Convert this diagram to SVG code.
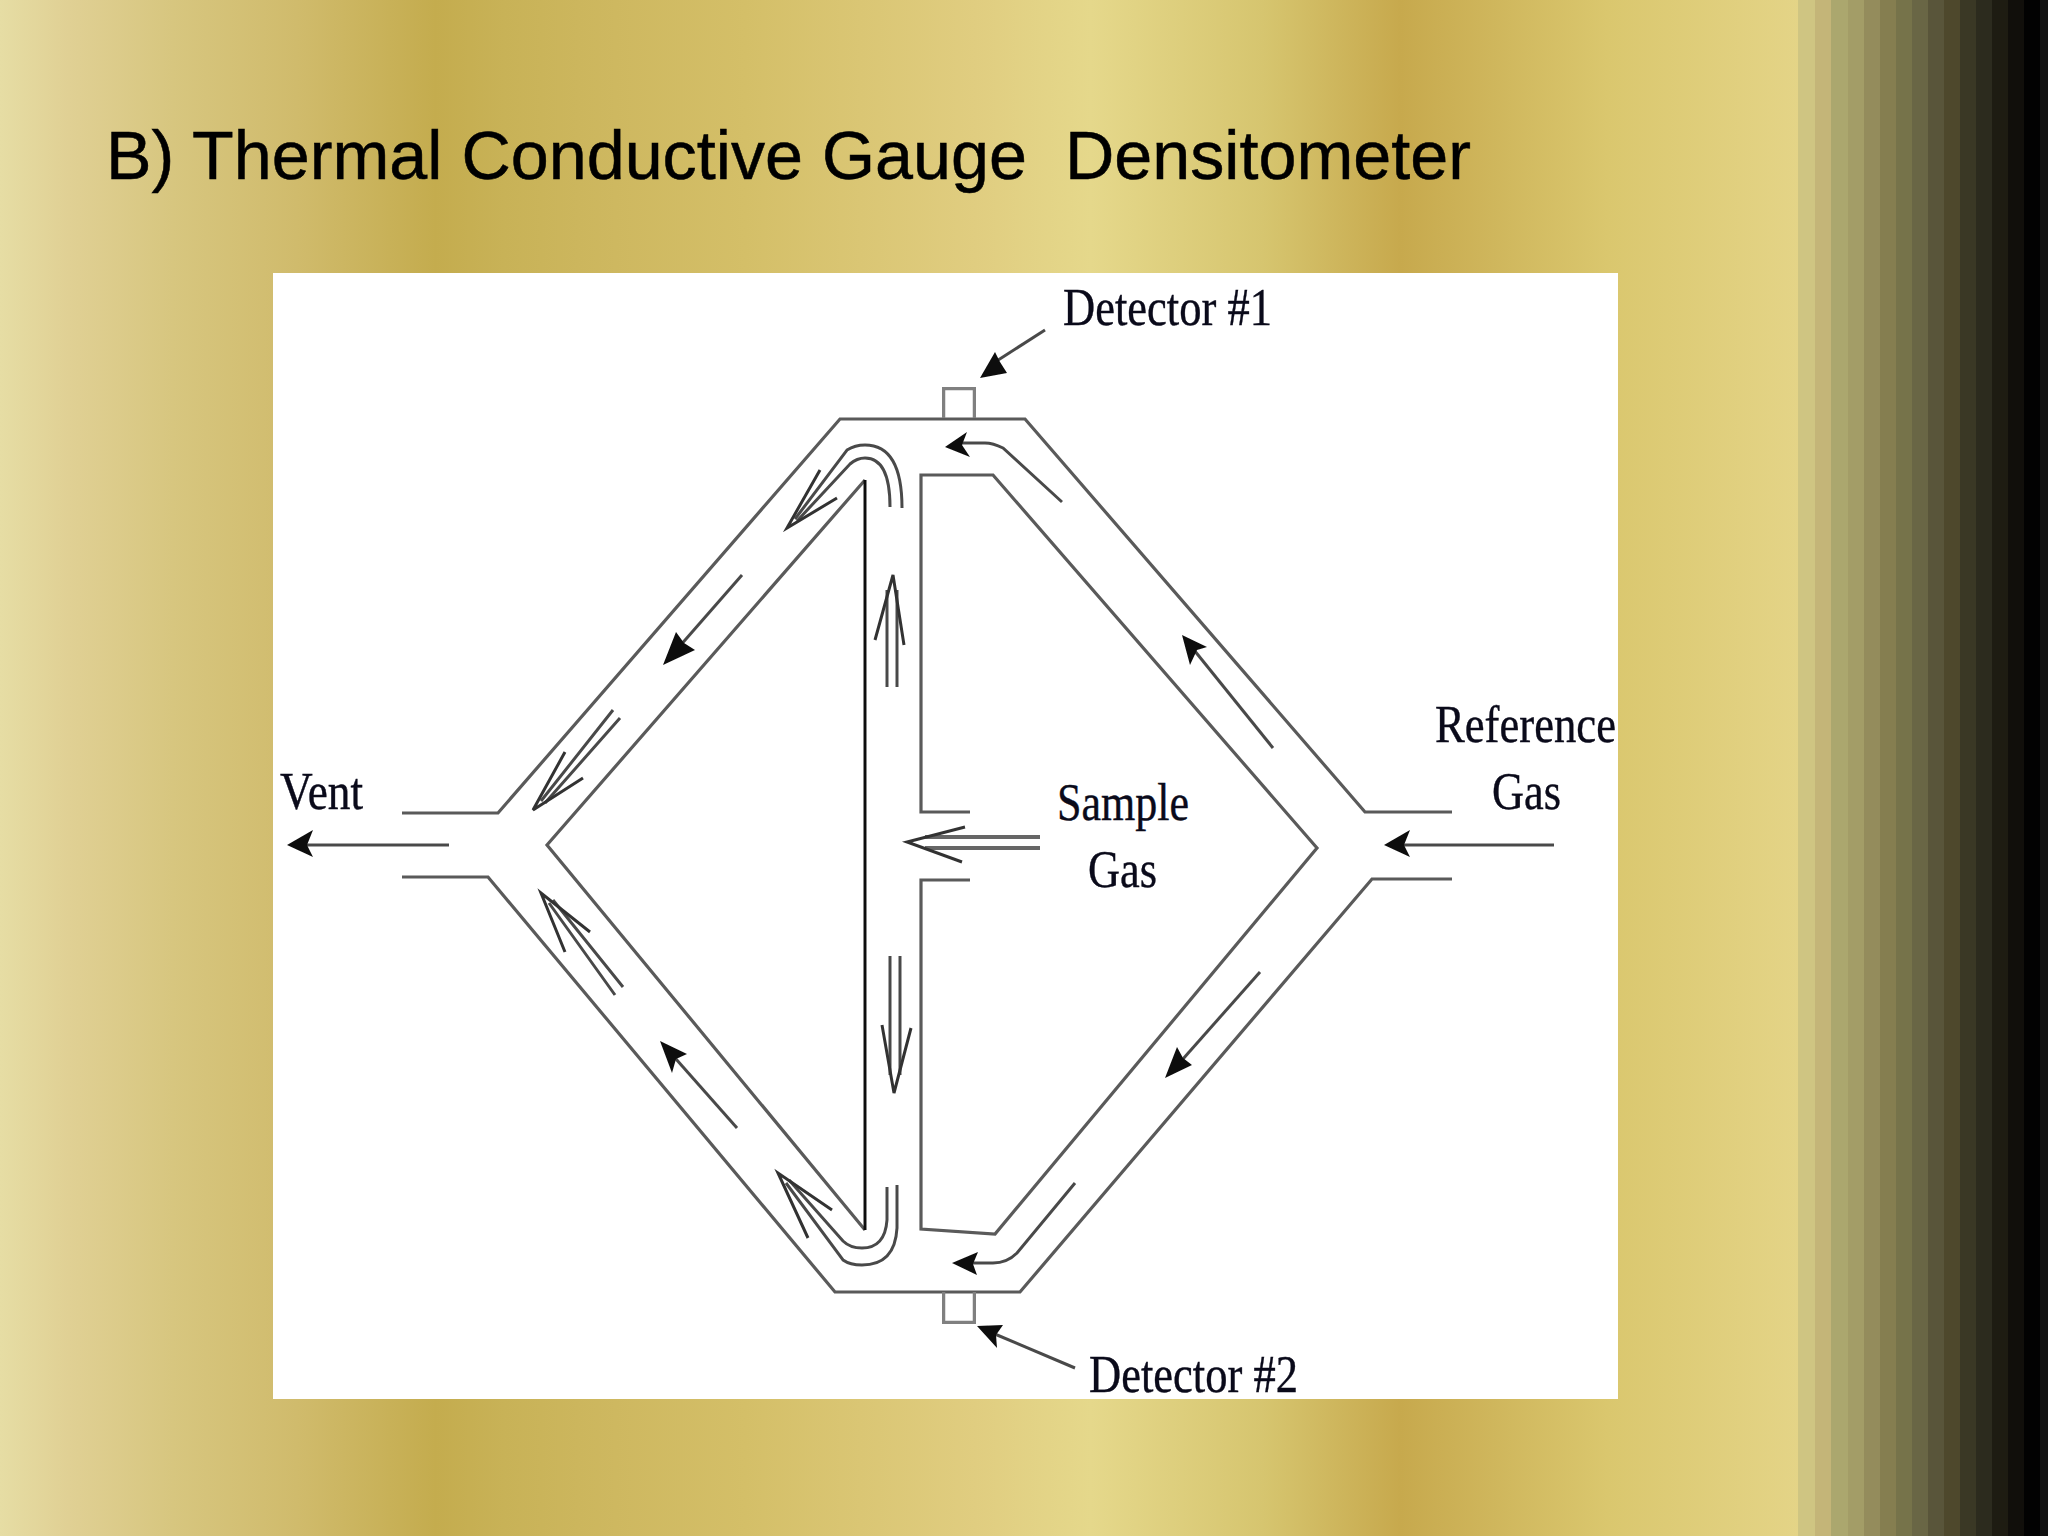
<svg xmlns="http://www.w3.org/2000/svg" width="2048" height="1536" viewBox="0 0 2048 1536">
<style>
.w{fill:none;stroke:#5a5a5a;stroke-width:3.2;stroke-linejoin:miter}
.k{stroke:#111;stroke-width:3}
.g{stroke:#808080;stroke-width:4.5}
.a{fill:none;stroke:#4a4a4a;stroke-width:3}
.s{stroke:#666;stroke-width:4}
.h{fill:#111;stroke:none}
.o{fill:none;stroke:#333;stroke-width:3}
.t{font-family:"Liberation Serif","Times New Roman",serif;font-size:52px;fill:#0a0a1a;stroke:#0a0a1a;stroke-width:.4}
.title{font-family:"Liberation Sans",Arial,sans-serif;font-size:68px;fill:#000;stroke:#000;stroke-width:.5;white-space:pre}
</style>
<defs>
<linearGradient id="bg" gradientUnits="userSpaceOnUse" x1="0" y1="0" x2="1800" y2="0">
<stop offset="0" stop-color="#e6dda4"/><stop offset="0.038" stop-color="#e0d094"/><stop offset="0.096" stop-color="#d7c67f"/><stop offset="0.165" stop-color="#d0bb6c"/><stop offset="0.242" stop-color="#c4ac4e"/><stop offset="0.28" stop-color="#c8b257"/><stop offset="0.342" stop-color="#ceb860"/><stop offset="0.414" stop-color="#d4bf68"/><stop offset="0.542" stop-color="#e0cd80"/><stop offset="0.606" stop-color="#e5d88b"/><stop offset="0.702" stop-color="#d6c56f"/><stop offset="0.778" stop-color="#c7a94d"/><stop offset="0.829" stop-color="#cfb65c"/><stop offset="0.893" stop-color="#dac76e"/><stop offset="1" stop-color="#e4d487"/>
</linearGradient>
<filter id="soft" x="-2%" y="-2%" width="104%" height="104%"><feGaussianBlur stdDeviation="0.6"/></filter>
</defs>
<g id="background">
<rect width="2048" height="1536" fill="url(#bg)"/>
<rect x="1798" y="0" width="17" height="1536" fill="#cfc582"/>
<rect x="1815" y="0" width="16" height="1536" fill="#c4b578"/>
<rect x="1831" y="0" width="17" height="1536" fill="#aba76e"/>
<rect x="1848" y="0" width="16" height="1536" fill="#a39d67"/>
<rect x="1864" y="0" width="16" height="1536" fill="#948c5c"/>
<rect x="1880" y="0" width="16" height="1536" fill="#857e50"/>
<rect x="1896" y="0" width="16" height="1536" fill="#76734a"/>
<rect x="1912" y="0" width="16" height="1536" fill="#696645"/>
<rect x="1928" y="0" width="16" height="1536" fill="#59553a"/>
<rect x="1944" y="0" width="16" height="1536" fill="#4e482c"/>
<rect x="1960" y="0" width="16" height="1536" fill="#3a3825"/>
<rect x="1976" y="0" width="16" height="1536" fill="#2c2b1e"/>
<rect x="1992" y="0" width="16" height="1536" fill="#1e1c12"/>
<rect x="2008" y="0" width="16" height="1536" fill="#110f0b"/>
<rect x="2024" y="0" width="16" height="1536" fill="#020202"/>
<rect x="2040" y="0" width="8" height="1536" fill="#111"/>
</g>
<text id="title" class="title" x="106" y="179" textLength="1365" lengthAdjust="spacingAndGlyphs" xml:space="preserve">B) Thermal Conductive Gauge  Densitometer</text>
<rect id="panel" x="273" y="273" width="1345" height="1126" fill="#fff"/>
<g id="walls" filter="url(#soft)">
<path class="w" d="M402 813H498L840 419H1025L1365 812H1452"/>
<path class="w" d="M402 877H488L835 1292H1020L1372 879H1452"/>
<path class="w" d="M970 812H921V475H993L1317 848L995 1234L921 1229V880H970"/>
<path class="w" d="M865 480L547 845L865 1230"/>
<path class="w k" d="M865 1230V480"/>
</g>
<g id="detector-1" filter="url(#soft)"><path class="w g" d="M943 418V388H975V418"/></g>
<g id="detector-2" filter="url(#soft)"><path class="w g" d="M943 1292V1323H975V1292"/></g>
<g id="connectors" filter="url(#soft)">
<path class="a" d="M1045 330L992 364"/><polygon class="h" points="980,378 995,352 1000,362 1007,373"/>
<path class="a" d="M1075 1368L990 1332"/><polygon class="h" points="977,1326 1003,1325 996,1335 997,1348"/>
<path class="a k" d="M449 845H300"/><polygon class="h" points="287,845 313,830 307,845 313,857"/>
<path class="a k" d="M1554 845H1396"/><polygon class="h" points="1384,845 1410,830 1404,845 1410,857"/>
<path class="a s" d="M1040 837H925M1040 848H925"/><path class="o" d="M965 827L907 842L962 862"/>
<path class="a" d="M1062 502L1003 448Q993 443 985 443H960"/><polygon class="h" points="945,447 967,432 962,445 970,457"/>
<path class="a" d="M1273 748L1190 645"/><polygon class="h" points="1182,635 1207,647 1197,650 1190,665"/>
<path class="a" d="M1260 972L1175 1068"/><polygon class="h" points="1165,1078 1177,1047 1183,1058 1192,1065"/>
<path class="a" d="M1075 1183L1017 1253Q1007 1263 993 1263H970"/><polygon class="h" points="952,1263 978,1252 973,1264 977,1275"/>
<path class="a" d="M742 575L672 655"/><polygon class="h" points="663,665 676,632 684,643 695,650"/>
<path class="a" d="M737 1128L668 1050"/><polygon class="h" points="660,1041 687,1054 676,1059 672,1073"/>
<path class="a" d="M887 687V590M897 687V590"/><path class="o" d="M875 640L893 575L904 645"/>
<path class="a" d="M890 956V1075M900 956V1075"/><path class="o" d="M882 1025L894 1093L911 1028"/>
<path class="a" d="M902 508Q902 445 865 445Q855 445 847 450L795 519"/>
<path class="a" d="M890 507Q890 458 865 458Q857 458 850 464L797 521"/>
<path class="o" d="M820 470L787 528L837 498"/>
<path class="a" d="M897 1185V1228Q895 1265 862 1265Q850 1265 843 1260L786 1183"/>
<path class="a" d="M887 1187V1220Q885 1248 862 1248Q850 1248 843 1241L789 1180"/>
<path class="o" d="M832 1210L778 1173L808 1238"/>
<path class="a" d="M613 710L541 801M620 718L545 803"/><path class="o" d="M565 752L533 810L583 778"/>
<path class="a" d="M615 995L549 903M623 987L553 900"/><path class="o" d="M590 932L541 893L565 952"/>
</g>
<g id="labels">
<text class="t" x="1063" y="325" textLength="209" lengthAdjust="spacingAndGlyphs">Detector #1</text>
<text class="t" x="1089" y="1392" textLength="209" lengthAdjust="spacingAndGlyphs">Detector #2</text>
<text class="t" x="280" y="809" textLength="83" lengthAdjust="spacingAndGlyphs">Vent</text>
<text class="t" x="1057" y="820" textLength="132" lengthAdjust="spacingAndGlyphs">Sample</text>
<text class="t" x="1088" y="887" textLength="69" lengthAdjust="spacingAndGlyphs">Gas</text>
<text class="t" x="1435" y="742" textLength="181" lengthAdjust="spacingAndGlyphs">Reference</text>
<text class="t" x="1492" y="809" textLength="69" lengthAdjust="spacingAndGlyphs">Gas</text>
</g>
</svg>
